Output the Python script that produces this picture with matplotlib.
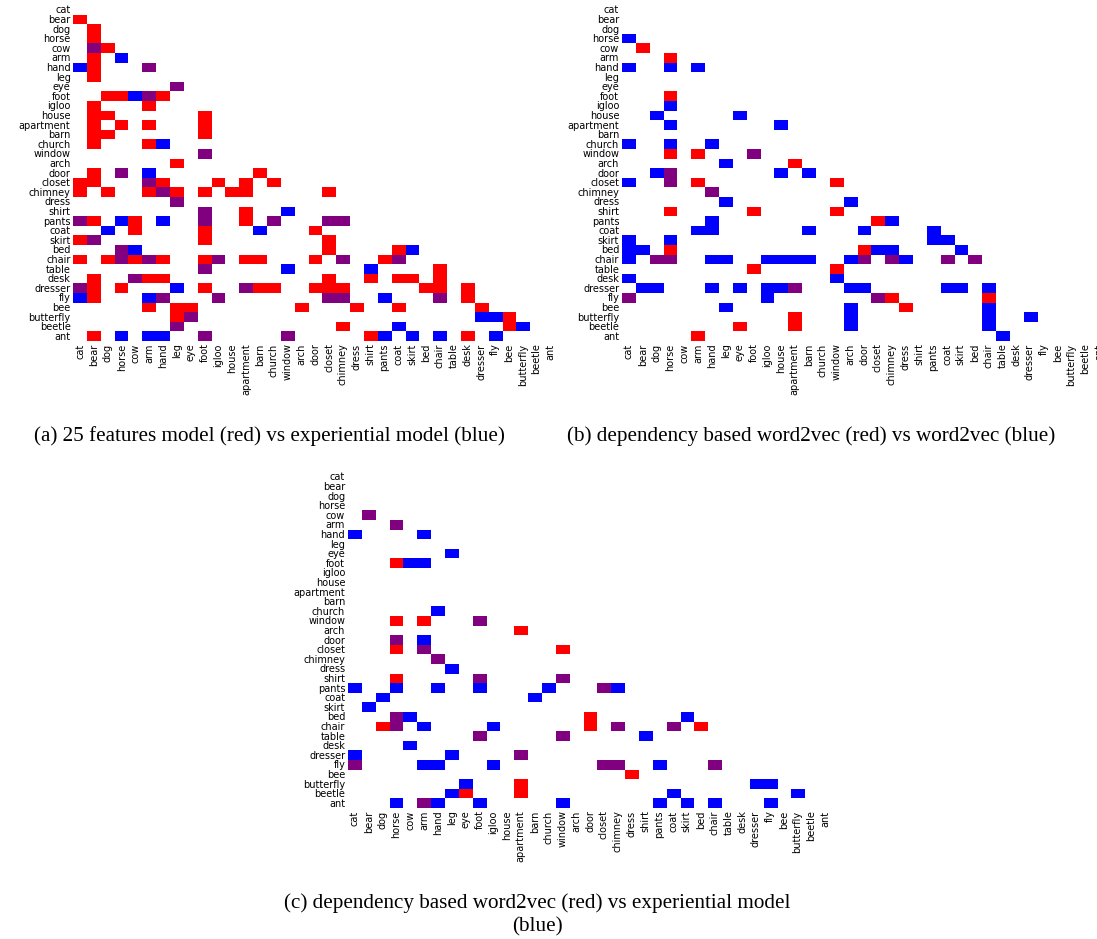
import numpy as np
import matplotlib
matplotlib.use("Agg")
import matplotlib.pyplot as plt
from matplotlib.colors import ListedColormap

words = ["cat", "bear", "dog", "horse", "cow", "arm", "hand", "leg", "eye",
         "foot", "igloo", "house", "apartment", "barn", "church", "window",
         "arch", "door", "closet", "chimney", "dress", "shirt", "pants",
         "coat", "skirt", "bed", "chair", "table", "desk", "dresser", "fly",
         "bee", "butterfly", "beetle", "ant"]

# row index -> column indices (lower triangle only)
# (a) 25 features model vs experiential model
a_red = {1: [0], 2: [1], 3: [1], 4: [2], 5: [1], 6: [1], 7: [1],
         9: [2, 3, 6], 10: [1, 5], 11: [1, 2, 9], 12: [1, 3, 5, 9],
         13: [1, 2, 9], 14: [1, 5], 16: [7], 17: [1, 13],
         18: [0, 1, 6, 10, 12, 14], 19: [0, 2, 5, 7, 9, 11, 12, 18],
         21: [12], 22: [1, 4, 12], 23: [4, 9, 17], 24: [0, 9, 18],
         25: [18, 23], 26: [0, 2, 4, 6, 9, 12, 13, 17, 22], 27: [26],
         28: [1, 5, 6, 18, 21, 23, 24, 26],
         29: [1, 3, 9, 13, 14, 17, 18, 19, 25, 26, 28], 30: [1, 28],
         31: [5, 7, 8, 16, 20, 23, 29], 32: [7, 31], 33: [19, 31],
         34: [1, 21, 28]}
a_blue = {5: [3], 6: [0], 9: [4], 14: [6], 17: [5], 21: [15], 22: [3, 6],
          23: [2, 13], 25: [4, 24], 27: [15, 21], 29: [7], 30: [0, 5, 22],
          32: [29, 30], 33: [23, 32], 34: [3, 5, 6, 22, 24, 26, 30]}
a_both = {4: [1], 6: [5], 8: [7], 9: [5], 15: [9], 17: [3], 18: [5], 19: [6],
          20: [7], 21: [9], 22: [0, 9, 14, 18, 19], 24: [1], 25: [3],
          26: [3, 5, 10, 19, 23], 27: [9], 28: [4], 29: [0, 12],
          30: [6, 10, 18, 19, 26], 32: [8], 33: [7], 34: [9, 15]}

# (b) dependency based word2vec vs word2vec
b_red = {4: [1], 5: [3], 9: [3], 15: [3, 5], 16: [12], 18: [5, 15],
         21: [3, 9, 15], 22: [18], 25: [3, 17], 27: [9, 15], 30: [19, 26],
         31: [20], 32: [12], 33: [8, 12], 34: [5]}
b_blue = {3: [0], 6: [0, 3, 5], 10: [3], 11: [2, 8], 12: [3, 11],
          14: [0, 3, 6], 16: [7], 17: [2, 11, 13], 18: [0], 20: [7, 16],
          22: [6, 19], 23: [5, 6, 13, 17, 22], 24: [0, 3, 22, 23],
          25: [0, 1, 18, 19, 24], 26: [0, 6, 7, 10, 11, 12, 13, 16, 20],
          28: [0, 15], 29: [1, 2, 6, 8, 10, 11, 16, 17, 23, 24, 26],
          30: [10], 31: [7, 16, 26], 32: [16, 26, 29], 33: [16, 26],
          34: [27]}
b_both = {15: [9], 17: [3], 18: [3], 19: [6], 26: [2, 3, 17, 19, 23, 25],
          29: [12], 30: [0, 18]}

# (c) dependency based word2vec vs experiential model
c_red = {9: [3], 15: [3, 5], 16: [12], 18: [3, 15], 21: [3], 25: [17],
         26: [2, 17, 25], 31: [20], 32: [12], 33: [8, 12]}
c_blue = {6: [0, 5], 8: [7], 9: [4, 5], 14: [6], 17: [5], 20: [7],
          22: [0, 3, 6, 9, 14, 19], 23: [2, 13], 24: [1], 25: [4, 24],
          26: [5, 10], 27: [21], 28: [4], 29: [0, 7], 30: [5, 6, 10, 22],
          32: [8, 29, 30], 33: [7, 23, 32],
          34: [3, 6, 9, 15, 22, 24, 26, 30]}
c_both = {4: [1], 5: [3], 15: [9], 17: [3], 18: [5], 19: [6], 21: [9, 15],
          22: [18], 25: [3], 26: [3, 19, 23], 27: [9, 15], 29: [12],
          30: [0, 18, 19, 26], 34: [5]}

captions = ["(a) 25 features model (red) vs experiential model (blue)",
            "(b) dependency based word2vec (red) vs word2vec (blue)",
            "(c) dependency based word2vec (red) vs experiential model\n(blue)"]

cmap = ListedColormap(["white", "#ff0000", "#0000ff", "#800080"])


def build_matrix(red, blue, both):
    n = len(words)
    m = np.zeros((n, n))
    for code, cells in ((1, red), (2, blue), (3, both)):
        for r, cols in cells.items():
            for c in cols:
                m[r, c] = code
    return m


def draw_panel(ax, mat):
    ax.imshow(mat, cmap=cmap, vmin=0, vmax=3, aspect="auto",
              interpolation="nearest")
    ax.set_xticks(range(len(words)))
    ax.set_xticklabels(words, rotation=90, fontsize=7)
    ax.set_yticks(range(len(words)))
    ax.set_yticklabels(words, fontsize=7)
    ax.tick_params(length=0, pad=2)
    for s in ax.spines.values():
        s.set_visible(False)


fig = plt.figure(figsize=(10.97, 9.39), dpi=100)
W, H = 1097.0, 939.0
cw = 13.83 * 35 / W
ch = 336.0 / H

ax_a = fig.add_axes([73.3 / W, 1 - 340.6 / H, cw, ch])
ax_b = fig.add_axes([622.0 / W, 1 - 340.6 / H, cw, ch])
ax_c = fig.add_axes([348.0 / W, 1 - 807.6 / H, cw, ch])

draw_panel(ax_a, build_matrix(a_red, a_blue, a_both))
draw_panel(ax_b, build_matrix(b_red, b_blue, b_both))
draw_panel(ax_c, build_matrix(c_red, c_blue, c_both))

serif = dict(family="Liberation Serif", fontsize=15.2, ha="center")
fig.text(269 / W, 1 - 436 / H, captions[0], va="center", **serif)
fig.text(811 / W, 1 - 436 / H, captions[1], va="center", **serif)
fig.text(537 / W, 1 - 915 / H, captions[2], va="center",
         multialignment="center", linespacing=1.25, **serif)

fig.savefig("out.png", dpi=100)
